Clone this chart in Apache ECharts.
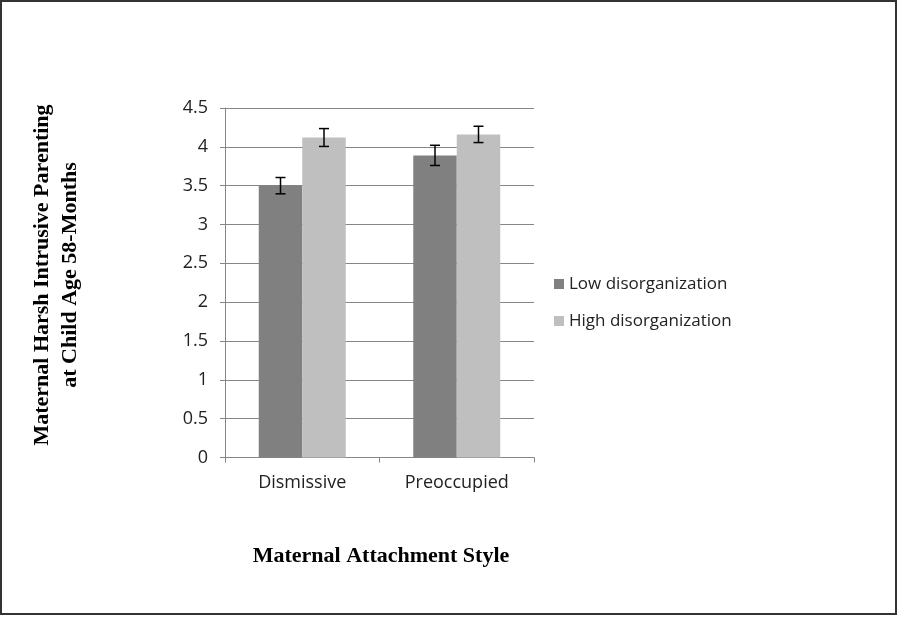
<!DOCTYPE html>
<html>
<head>
<meta charset="utf-8">
<script src="https://cdn.jsdelivr.net/npm/echarts@6/dist/echarts.min.js"></script>
<style>html,body{margin:0;padding:0;background:#fff;}#c{width:900px;height:617px;}</style>
</head>
<body>
<div id="c"></div>
<script>
const categories = ['Dismissive', 'Preoccupied'];
const seriesNames = ['Low disorganization', 'High disorganization'];
const lowValues = [3.50, 3.89];
const highValues = [4.12, 4.16];
const lowErrors = [0.105, 0.13];
const highErrors = [0.115, 0.105];
const yTicks = [0, 0.5, 1, 1.5, 2, 2.5, 3, 3.5, 4, 4.5];
const xTitle = 'Maternal Attachment Style';
const yTitleLines = ['Maternal Harsh Intrusive Parenting', 'at Child Age 58-Months'];

const colors = ['#808080', '#bfbfbf'];
const chart = echarts.init(document.getElementById('c'), null, {renderer: 'canvas'});

function errSeries(values, errs, seriesIndex) {
  return {
    type: 'custom',
    name: seriesNames[seriesIndex] + ' err',
    z: 10,
    data: values.map((v, i) => [i, v - errs[i], v + errs[i]]),
    renderItem: function (params, api) {
      const ci = api.value(0);
      const lo = api.coord([ci, api.value(1)]);
      const hi = api.coord([ci, api.value(2)]);
      const bw = api.size([1, 0])[0];
      const barW = bw * (1 - 0.437) / 2;
      const cx = lo[0] + (seriesIndex === 0 ? -barW / 2 : barW / 2);
      const cap = 5;
      const st = {stroke: '#000', lineWidth: 1.5};
      return {
        type: 'group',
        children: [
          {type: 'line', shape: {x1: cx, y1: hi[1], x2: cx, y2: lo[1]}, style: st},
          {type: 'line', shape: {x1: cx - cap, y1: hi[1], x2: cx + cap, y2: hi[1]}, style: st},
          {type: 'line', shape: {x1: cx - cap, y1: lo[1], x2: cx + cap, y2: lo[1]}, style: st}
        ]
      };
    }
  };
}

const option = {
  animation: false,
  backgroundColor: '#fff',
  grid: {left: 225, right: 366, top: 108, bottom: 159.5, containLabel: false},
  legend: {
    orient: 'vertical',
    left: 549,
    top: 269,
    itemWidth: 10,
    itemHeight: 10,
    itemGap: 17,
    icon: 'rect',
    data: seriesNames,
    textStyle: {fontFamily: 'Open Sans', fontSize: 17, lineHeight: 20, color: '#222'}
  },
  xAxis: {
    type: 'category',
    data: categories,
    axisLine: {lineStyle: {color: '#868686', width: 1}},
    axisTick: {show: true, length: 5, lineStyle: {color: '#868686'}},
    axisLabel: {fontFamily: 'Open Sans', fontSize: 18, color: '#222', margin: 16}
  },
  yAxis: {
    type: 'value',
    min: 0,
    max: 4.5,
    interval: 0.5,
    axisLine: {show: true, lineStyle: {color: '#868686', width: 1}},
    axisTick: {show: true, length: 5, lineStyle: {color: '#868686'}},
    splitLine: {lineStyle: {color: '#868686', width: 1}},
    axisLabel: {fontFamily: 'Open Sans', fontSize: 18, color: '#222', margin: 17,
      formatter: v => String(v)}
  },
  series: [
    {type: 'bar', name: seriesNames[0], data: lowValues, itemStyle: {color: colors[0]}, barGap: '0%', barCategoryGap: '43.7%'},
    {type: 'bar', name: seriesNames[1], data: highValues, itemStyle: {color: colors[1]}, barGap: '0%', barCategoryGap: '43.7%'},
    errSeries(lowValues, lowErrors, 0),
    errSeries(highValues, highErrors, 1)
  ],
  graphic: [
    {type: 'rect', shape: {x: 1, y: 1, width: 895, height: 613}, style: {fill: null, stroke: '#333', lineWidth: 2}, silent: true, z: 100},
    {type: 'text', x: 381, y: 556, style: {text: xTitle, font: 'bold 22px "Liberation Serif"', fill: '#000', textAlign: 'center', textVerticalAlign: 'middle'}},
    {type: 'text', x: 42, y: 275, rotation: Math.PI / 2, style: {text: yTitleLines[0], font: 'bold 22px "Liberation Serif"', fill: '#000', textAlign: 'center', textVerticalAlign: 'middle'}},
    {type: 'text', x: 70, y: 275, rotation: Math.PI / 2, style: {text: yTitleLines[1], font: 'bold 22px "Liberation Serif"', fill: '#000', textAlign: 'center', textVerticalAlign: 'middle'}}
  ]
};
chart.setOption(option);
</script>
</body>
</html>
